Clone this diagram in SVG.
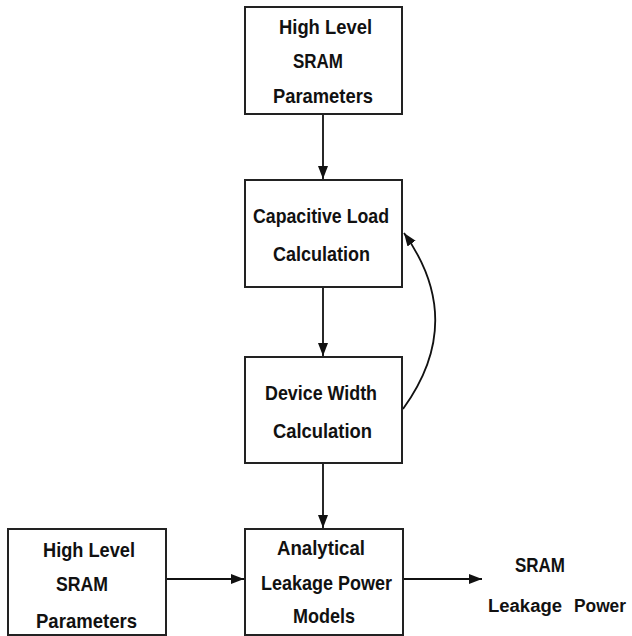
<svg xmlns="http://www.w3.org/2000/svg" width="632" height="636" viewBox="0 0 632 636">
<defs>
<style>
.box{fill:#fff;stroke:#222;stroke-width:2}
.t{font-family:"Liberation Sans Narrow","Liberation Sans",Arial,sans-serif;font-size:21px;font-weight:bold;fill:#111;}
.c{fill:none;stroke:#111;stroke-width:1.8}
</style>
<marker id="ah" viewBox="0 0 13 10" refX="13" refY="5" markerWidth="13" markerHeight="10" markerUnits="userSpaceOnUse" orient="auto">
<path d="M0,0 L13,5 L0,10 Z" fill="#111"/>
</marker>
</defs>
<rect width="632" height="636" fill="#fff"/>
<g id="connectors">
<line class="c" x1="323" y1="115" x2="323" y2="179" marker-end="url(#ah)"/>
<line class="c" x1="323" y1="288" x2="323" y2="356" marker-end="url(#ah)"/>
<line class="c" x1="323" y1="464" x2="323" y2="528" marker-end="url(#ah)"/>
<line class="c" x1="167" y1="579" x2="244" y2="579" marker-end="url(#ah)"/>
<line class="c" x1="404" y1="579" x2="482" y2="579" marker-end="url(#ah)"/>
<path class="c" d="M403,409 Q467,321 404,233" marker-end="url(#ah)"/>
</g>
<g id="n1">
<rect class="box" x="245" y="7" width="157" height="107"/>
<text class="t" x="279" y="34" textLength="93" lengthAdjust="spacingAndGlyphs">High Level</text>
<text class="t" x="293" y="68" textLength="50" lengthAdjust="spacingAndGlyphs">SRAM</text>
<text class="t" x="273" y="103" textLength="100" lengthAdjust="spacingAndGlyphs">Parameters</text>
</g>
<g id="n2">
<rect class="box" x="245" y="180" width="157" height="107"/>
<text class="t" x="253" y="223" textLength="136" lengthAdjust="spacingAndGlyphs">Capacitive Load</text>
<text class="t" x="273" y="261" textLength="97" lengthAdjust="spacingAndGlyphs">Calculation</text>
</g>
<g id="n3">
<rect class="box" x="245" y="357" width="157" height="106"/>
<text class="t" x="265" y="400" textLength="112" lengthAdjust="spacingAndGlyphs">Device Width</text>
<text class="t" x="273" y="438" textLength="99" lengthAdjust="spacingAndGlyphs">Calculation</text>
</g>
<g id="n4">
<rect class="box" x="8" y="529" width="158" height="106"/>
<text class="t" x="43" y="557" textLength="92" lengthAdjust="spacingAndGlyphs">High Level</text>
<text class="t" x="56" y="591" textLength="52" lengthAdjust="spacingAndGlyphs">SRAM</text>
<text class="t" x="36" y="628" textLength="101" lengthAdjust="spacingAndGlyphs">Parameters</text>
</g>
<g id="n5">
<rect class="box" x="245" y="529" width="158" height="106"/>
<text class="t" x="277" y="555" textLength="88" lengthAdjust="spacingAndGlyphs">Analytical</text>
<text class="t" x="261" y="590" textLength="131" lengthAdjust="spacingAndGlyphs">Leakage Power</text>
<text class="t" x="293" y="623" textLength="62" lengthAdjust="spacingAndGlyphs">Models</text>
</g>
<g id="n6">
<text class="t" x="515" y="572" textLength="50" lengthAdjust="spacingAndGlyphs">SRAM</text>
<text class="t" y="612" style="font-size:18px"><tspan x="488" textLength="74" lengthAdjust="spacingAndGlyphs">Leakage</tspan> <tspan x="574" textLength="52" lengthAdjust="spacingAndGlyphs">Power</tspan></text>
</g>
</svg>
